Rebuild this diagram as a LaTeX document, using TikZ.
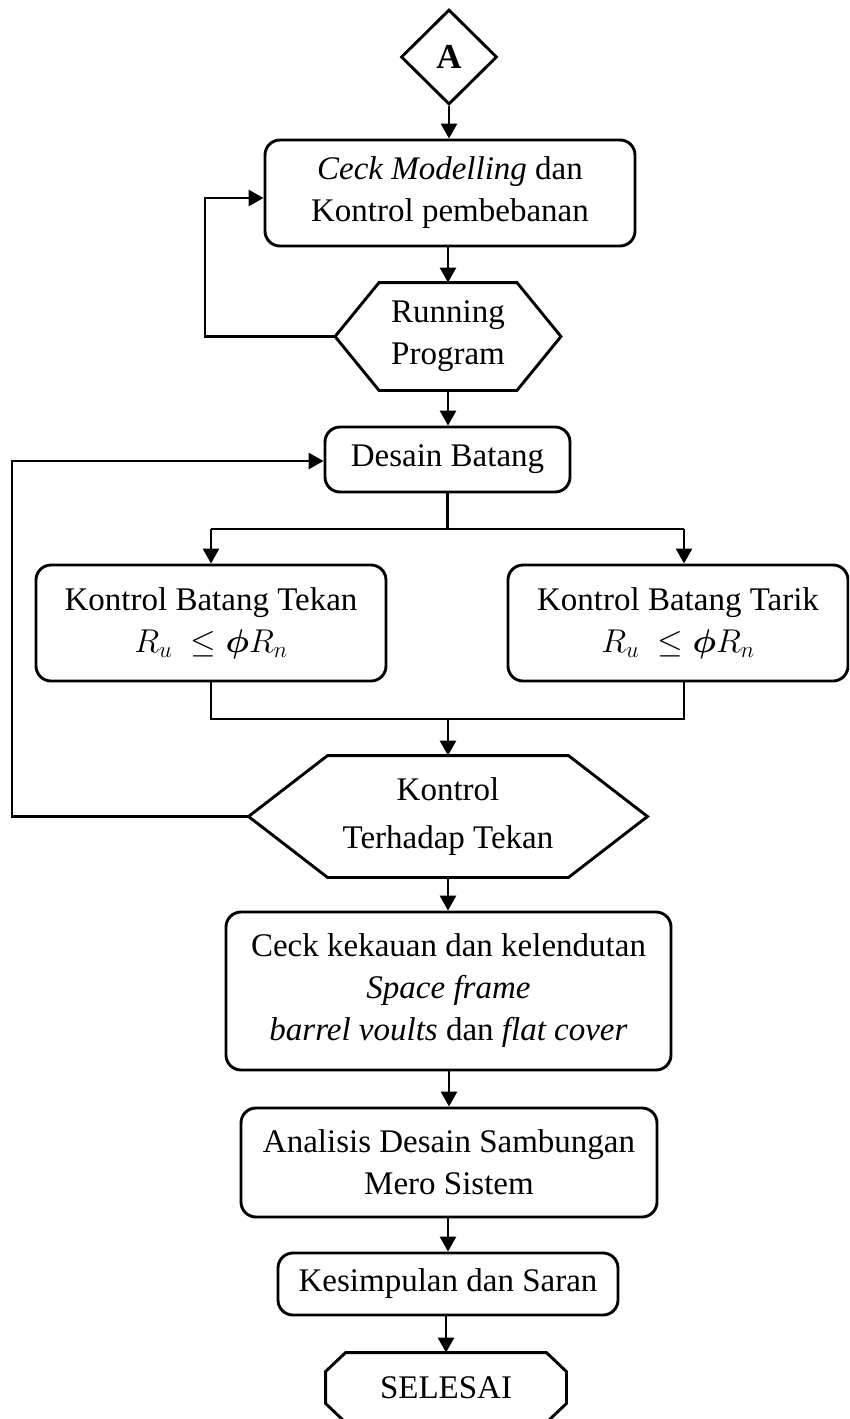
\RequirePackage{fix-cm}
\documentclass[tikz,border=0pt]{standalone}
\usepackage{fontspec}
\setmainfont{Liberation Serif}
\usepackage{amsmath}
\usetikzlibrary{arrows.meta,shapes.geometric,calc}

\begin{document}
\begin{tikzpicture}[x=1pt,y=-1pt,
  line width=2.9pt,
  every node/.style={font=\fontsize{33}{42}\selectfont, align=center, inner sep=0pt},
  box/.style 2 args={draw, rounded corners=15pt, minimum width=#1, minimum height=#2},
  hexcore/.style 2 args={minimum width=#1, minimum height=#2},
  arr/.style={-{Triangle[length=15pt,width=16pt]}}
]
\useasboundingbox (0,0) rectangle (849,1419);
\clip (0,0) rectangle (849,1419);

% connector A
\node[diamond, draw, minimum width=96pt, minimum height=95pt,
      font=\fontsize{35}{42}\selectfont\bfseries] (A) at (449,57) {A};

% modelling check
\node[box={370pt}{106pt}] (b1) at (450,193)
  {\textit{Ceck Modelling} dan\\Kontrol pembebanan};

% running program (hexagon)
\node[hexcore={135pt}{105pt}] (run) at (448,336.5) {Running\\Program};
\coordinate (runL) at ($(run.west)+(-44,0)$);
\coordinate (runR) at ($(run.east)+(44,0)$);
\draw (run.north west) -- (run.north east) -- (runR) -- (run.south east)
      -- (run.south west) -- (runL) -- cycle;

% member design
\node[box={245pt}{65pt}] (des) at (447.5,459.5) {Desain Batang};

% member checks
\node[box={350pt}{116pt}] (tekan) at (211,623)
  {Kontrol Batang Tekan\\$R_u\;\leq \boldsymbol{\phi}R_n$};
\node[box={340pt}{116pt}] (tarik) at (678,623)
  {Kontrol Batang Tarik\\$R_u\;\leq \boldsymbol{\phi}R_n$};

% compression check (hexagon)
\node[hexcore={238pt}{119pt}] (hex2) at (448,816.5) {Kontrol\\[6pt]Terhadap Tekan};
\coordinate (hex2L) at ($(hex2.west)+(-79,0)$);
\coordinate (hex2R) at ($(hex2.east)+(79,0)$);
\draw (hex2.north west) -- (hex2.north east) -- (hex2R) -- (hex2.south east)
      -- (hex2.south west) -- (hex2L) -- cycle;

% stiffness and deflection
\node[box={445pt}{158pt}] (ceck) at (448.5,991)
  {Ceck kekauan dan kelendutan\\\textit{Space frame}\\\textit{barrel voults} dan \textit{flat cover}};

% connection design
\node[box={416pt}{109pt}] (ana) at (449,1162.5)
  {Analisis Desain Sambungan\\Mero Sistem};

% conclusion
\node[box={340pt}{62pt}] (kes) at (448,1284) {Kesimpulan dan Saran};

% terminator
\node[minimum width=238pt, minimum height=67pt] (end) at (446,1387.5)
  {\raisebox{-4pt}{SELESAI}};
\draw ($(end.north west)+(20,0)$) -- ($(end.north east)+(-20,0)$)
   -- ($(end.north east)+(0,19)$) -- ($(end.south east)+(0,-19)$)
   -- ($(end.south east)+(-20,0)$) -- ($(end.south west)+(20,0)$)
   -- ($(end.south west)+(0,-19)$) -- ($(end.north west)+(0,19)$) -- cycle;

% main flow
\draw[arr] (A.south) -- (A.south |- b1.north);
\draw[arr] (b1.south -| run.north) -- (run.north);
\draw[arr] (run.south) -- (run.south |- des.north);

% split to the two checks
\coordinate (sp) at (448,529);
\coordinate (spR) at (684,529);
\draw (des.south |- sp) -- (des.south);
\draw (sp) -- (sp -| tekan.north);
\draw (sp) -- (spR);
\draw[arr] (sp -| tekan.north) -- (tekan.north);
\draw[arr] (spR) -- (spR |- tarik.north);

% merge of the two checks
\coordinate (mg) at (448,719);
\draw (tekan.south) |- (mg);
\draw (spR |- tarik.south) |- (mg);
\draw[arr] (mg) -- (hex2.north);

\draw[arr] (hex2.south) -- (hex2.south |- ceck.north);
\draw[arr] (ceck.south -| ana.north) -- (ana.north);
\draw[arr] (ana.south -| kes.north) -- (kes.north);
\draw[arr] (kes.south -| end.north) -- (end.north);

% feedback loops
\coordinate (lp1) at (205,198);
\draw[arr] (runL) -| (lp1) -- (lp1 -| b1.west);
\coordinate (lp2) at (12,461);
\draw[arr] (hex2L) -| (lp2) -- (lp2 -| des.west);
\end{tikzpicture}
\end{document}
